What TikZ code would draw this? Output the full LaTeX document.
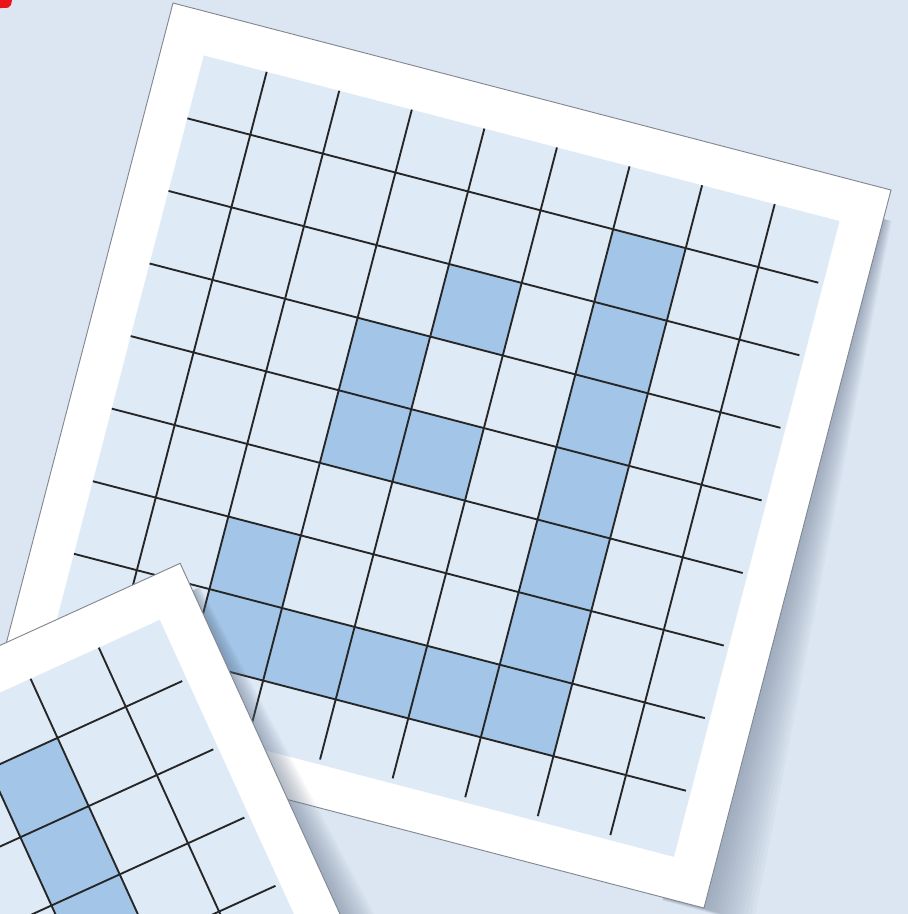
\documentclass[tikz,border=0pt]{standalone}
\definecolor{backblue}{RGB}{220,230,242}
\definecolor{cellblue}{RGB}{223,234,247}
\definecolor{markblue}{RGB}{162,197,232}
\definecolor{edgegray}{RGB}{130,136,145}
\definecolor{shadowgray}{RGB}{96,112,135}
\definecolor{cornerred}{RGB}{235,20,25}
\tikzset{
	card/.style={fill=white, draw=edgegray, line width=.8pt},
	field/.style={fill=cellblue},
	marked/.style={fill=markblue},
	gridline/.style={draw=black!85, line width=1.6pt},
}
\newcommand{\gridcard}{%
	\foreach \w in {4,8,...,52}{
			\fill[shadowgray, opacity=.045] (700,30) -- (742+\w/6,30) -- (742+\w,742+\w/16) -- (700,742+\w/16) -- cycle;
		}
	\path[card] (0,0) rectangle (742,742);
	\path[field] (43,43) rectangle (700,700);
	\foreach \col/\row in {6/1, 4/2, 6/2, 3/3, 6/3, 3/4, 4/4, 6/4, 6/5, 2/6, 6/6, 2/7, 3/7, 4/7, 5/7, 6/7}{
			\path[marked] ({108+75*(\col-1)},{108+75*(\row-1)}) rectangle +(75,75);
		}
	\foreach \k in {0,...,7}{
			\draw[gridline] (108+75*\k,43) -- (108+75*\k,695);
			\draw[gridline] (43,108+75*\k) -- (695,108+75*\k);
		}
}
\begin{document}
\begin{tikzpicture}[x=.03cm, y=-.03cm]
	\useasboundingbox (0,0) rectangle (908,914);
	\fill[backblue] (0,0) rectangle (908,914);
	\clip (0,0) rectangle (908,914);
	\begin{scope}[shift={(173,3)}, rotate=-14.6]
		\gridcard
	\end{scope}
	\begin{scope}[shift={(-495,871)}, rotate=24.5]
		\gridcard
	\end{scope}
	\fill[cornerred] (0,0) -- (12,0) -- (11,5) .. controls (9,8) .. (0,8) -- cycle;
\end{tikzpicture}
\end{document}
